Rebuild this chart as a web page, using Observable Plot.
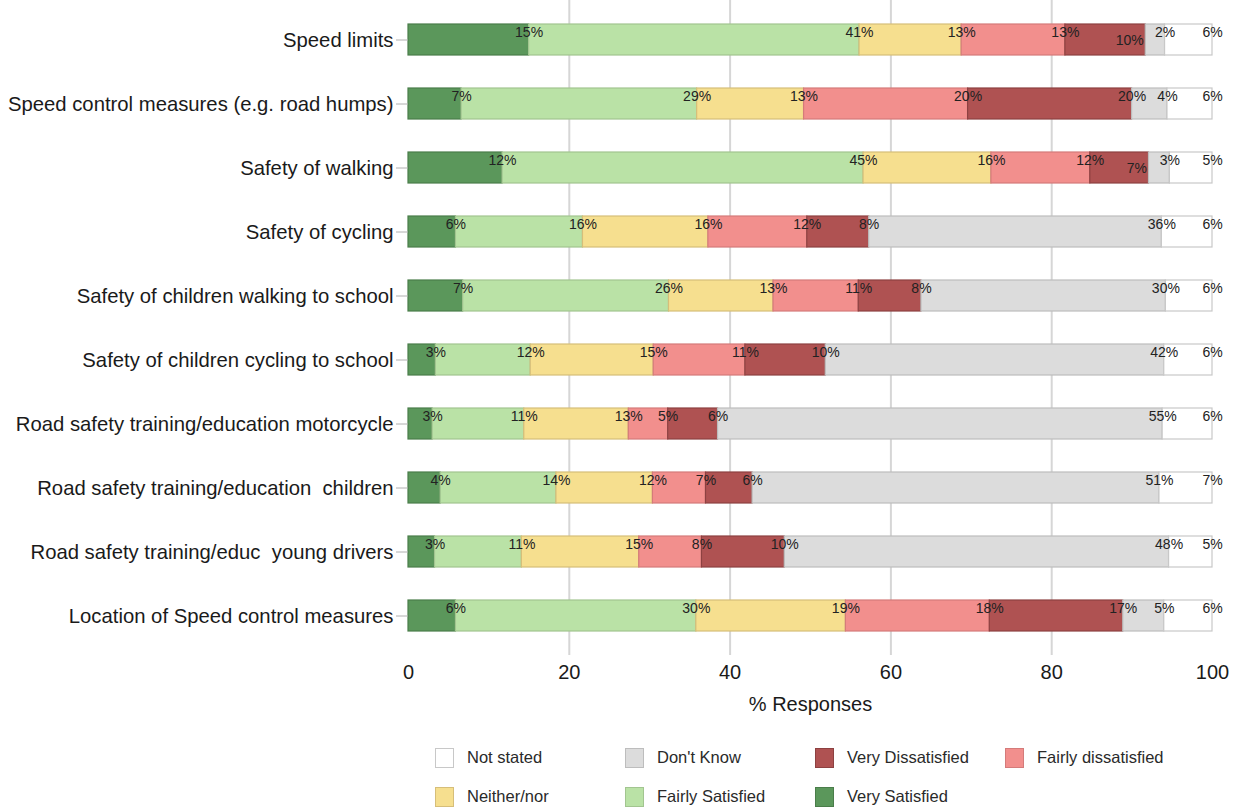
<!DOCTYPE html>
<html>
<head>
<meta charset="utf-8">
<script src="https://cdn.jsdelivr.net/npm/d3@7"></script>
<script src="https://cdn.jsdelivr.net/npm/@observablehq/plot@0.6"></script>
<style>
  body { margin: 0; background: #fff; font-family: "Liberation Sans", Arial, sans-serif; }
  #wrap { position: relative; width: 1238px; }
  svg text { white-space: pre; }
  #legend { display: grid; grid-template-columns: repeat(4, 190px); grid-auto-rows: 21px; row-gap: 18px;
            padding-left: 435px; padding-top: 22px; }
  .item { display: flex; align-items: center; font-size: 16.5px; color: #2a2a2a; }
  .sw { width: 19px; height: 20px; box-sizing: border-box; border: 1.5px solid; margin-right: 13px; flex: none; }
</style>
</head>
<body>
<div id="wrap"></div>
<script>
const items = [
  "Speed limits",
  "Speed control measures (e.g. road humps)",
  "Safety of walking",
  "Safety of cycling",
  "Safety of children walking to school",
  "Safety of children cycling to school",
  "Road safety training/education motorcycle",
  "Road safety training/education  children",
  "Road safety training/educ  young drivers",
  "Location of Speed control measures"
];
const categories = ["Very Satisfied", "Fairly Satisfied", "Neither/nor", "Fairly dissatisfied", "Very Dissatisfied", "Don't Know", "Not stated"];
const verySatisfied      = [15.0, 6.6, 11.7, 5.9, 6.8, 3.4, 3.0, 4.0, 3.3, 5.9];
const fairlySatisfied    = [41.1, 29.3, 44.9, 15.8, 25.6, 11.8, 11.4, 14.4, 10.8, 29.9];
const neitherNor         = [12.7, 13.3, 15.9, 15.6, 13.0, 15.3, 13.0, 12.0, 14.6, 18.6];
const fairlyDissatisfied = [12.9, 20.4, 12.3, 12.3, 10.6, 11.4, 4.9, 6.6, 7.8, 17.9];
const veryDissatisfied   = [10.0, 20.4, 7.3, 7.7, 7.8, 10.0, 6.2, 5.8, 10.3, 16.6];
const dontKnow           = [2.4, 4.4, 2.6, 36.4, 30.4, 42.1, 55.3, 50.6, 47.8, 5.1];
const notStated          = [5.9, 5.6, 5.3, 6.3, 5.8, 6.0, 6.2, 6.6, 5.4, 6.0];
const xTicks = [0, 20, 40, 60, 80, 100];
const gridTicks = [20, 40, 60, 80];

const series = [verySatisfied, fairlySatisfied, neitherNor, fairlyDissatisfied, veryDissatisfied, dontKnow, notStated];
const fills = {
  "Very Satisfied": "#5b975b", "Fairly Satisfied": "#bae2a6", "Neither/nor": "#f6df8f",
  "Fairly dissatisfied": "#f28f8d", "Very Dissatisfied": "#af5252", "Don't Know": "#dcdcdc", "Not stated": "#ffffff"
};
const strokes = {
  "Very Satisfied": "#4a7d4a", "Fairly Satisfied": "#a2c590", "Neither/nor": "#d6be79",
  "Fairly dissatisfied": "#d47b7a", "Very Dissatisfied": "#8d4141", "Don't Know": "#bdbdbd", "Not stated": "#c8c8c8"
};

const rows = items.flatMap((item, i) => categories.map((cat, j) => ({
  item, cat, value: series[j][i],
  low: j < series.length - 1 && series[j + 1][i] < 3
})));

const label = d => Math.round(d.value) + "%";

const chart = Plot.plot({
  width: 1238,
  height: 725,
  marginLeft: 408,
  marginRight: 26,
  marginTop: 0,
  marginBottom: 70,
  style: { fontFamily: "'Liberation Sans', Arial, sans-serif", background: "#fff" },
  x: { domain: [0, 100] },
  y: { domain: items, paddingInner: 0.513, paddingOuter: 0.31 },
  color: { type: "identity" },
  marks: [
    Plot.ruleX(gridTicks, { stroke: "#d6d6d6", strokeWidth: 2 }),
    Plot.barX(rows, Plot.stackX({
      x: "value", y: "item", z: "cat", order: categories,
      fill: d => fills[d.cat], stroke: d => strokes[d.cat], strokeWidth: 1.2
    })),
    Plot.text(rows, Plot.stackX2({
      x: "value", y: "item", z: "cat", order: categories,
      text: d => d.low ? "" : label(d), dy: -7, fontSize: 14, fill: "#222"
    })),
    Plot.text(rows, Plot.stackX2({
      x: "value", y: "item", z: "cat", order: categories,
      text: d => d.low ? label(d) : "", dy: 1, dx: -2, textAnchor: "end", fontSize: 14, fill: "#222"
    })),
    Plot.axisY({ tickSize: 12, tickPadding: 3, fontSize: 20.3, label: null, stroke: "#b0b0b0", fill: "#1a1a1a" }),
    Plot.axisX({ ticks: xTicks, tickSize: 0, tickPadding: 9, fontSize: 20, fill: "#1a1a1a",
      label: "% Responses", labelAnchor: "center", labelOffset: 55, labelArrow: "none" })
  ]
});

const wrap = document.getElementById("wrap");
wrap.appendChild(chart);

const legend = document.createElement("div");
legend.id = "legend";
categories.slice().reverse().forEach(cat => {
  const it = document.createElement("div");
  it.className = "item";
  const sw = document.createElement("span");
  sw.className = "sw";
  sw.style.background = fills[cat];
  sw.style.borderColor = strokes[cat];
  it.appendChild(sw);
  it.appendChild(document.createTextNode(cat));
  legend.appendChild(it);
});
wrap.appendChild(legend);
</script>
</body>
</html>
